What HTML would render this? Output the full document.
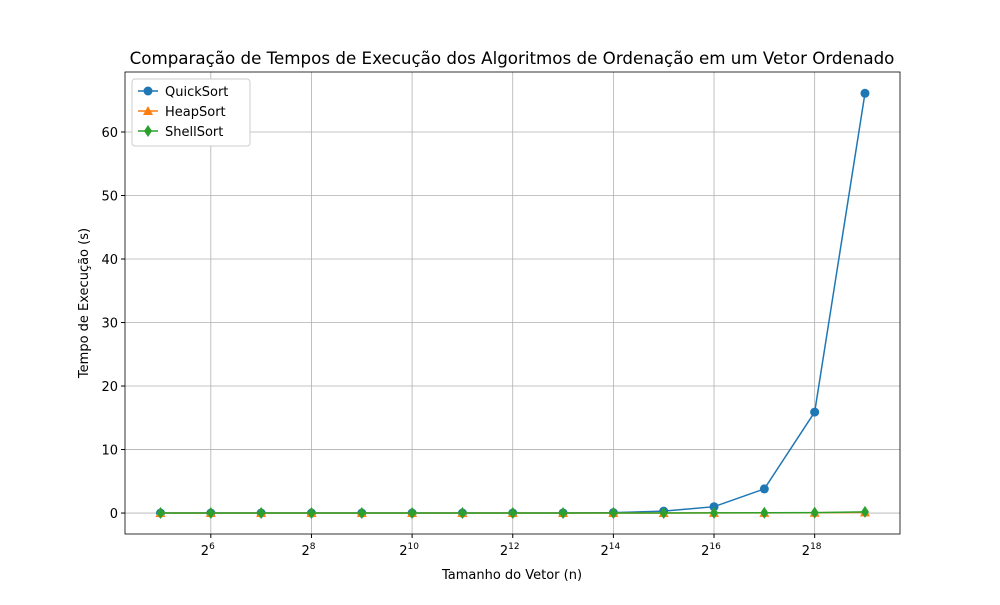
<!DOCTYPE html>
<html><head><meta charset="utf-8"><style>body{margin:0;background:#fff}svg{font-family:"DejaVu Sans","Liberation Sans",sans-serif}</style></head>
<body>
<svg id="c" width="1000" height="600"></svg>
<script>
const exps=[5,6,7,8,9,10,11,12,13,14,15,16,17,18,19];
const quick=[0,0,0,0,0,0,0,0,0.01,0.06,0.3,1.0,3.8,15.9,66.1];
const heap=[0,0,0,0,0,0,0,0,0,0.01,0.01,0.02,0.03,0.05,0.1];
const shell=[0,0,0,0,0,0,0,0,0,0.01,0.01,0.02,0.04,0.07,0.18];
const xTicks=[6,8,10,12,14,16,18];
const yTicks=[0,10,20,30,40,50,60];
const L=125,R=900,T=72,B=534;
const x=e=>160.5+(e-5)*50.32;
const y=v=>B-(v+3.3)/(69.45+3.3)*(B-T);
const s=document.getElementById('c');const NS='http://www.w3.org/2000/svg';
function el(t,a,p){const e=document.createElementNS(NS,t);for(const k in a)e.setAttribute(k,a[k]);(p||s).appendChild(e);return e;}
let g=el('g',{});
xTicks.forEach(e=>{el('line',{x1:x(e),x2:x(e),y1:T,y2:B,stroke:'#b0b0b0','stroke-width':0.8},g);
 const t=el('text',{x:x(e)-3,y:B+21,'font-size':13,'text-anchor':'middle'});t.textContent='2';
 
 const sp=el('tspan',{dy:-6,'font-size':9},t);sp.textContent=e;
 el('line',{x1:x(e),x2:x(e),y1:B,y2:B+4,stroke:'#000'});});
yTicks.forEach(v=>{el('line',{x1:L,x2:R,y1:y(v),y2:y(v),stroke:'#b0b0b0','stroke-width':0.8},g);
 el('line',{x1:L-4,x2:L,y1:y(v),y2:y(v),stroke:'#000'});
 const t=el('text',{x:L-7,y:y(v)+5,'font-size':13,'text-anchor':'end'});t.textContent=v;
 });
const fr=el('rect',{x:L,y:T,width:R-L,height:B-T,fill:'none',stroke:'#000','stroke-width':0.8});

function marker(k,cx,cy,c,p){if(k=='o')el('circle',{cx,cy,r:4.5,fill:c},p);
 else if(k=='^')el('polygon',{points:`${cx},${cy-5} ${cx-5},${cy+4} ${cx+5},${cy+4}`,fill:c},p);
 else el('polygon',{points:`${cx},${cy-6} ${cx-4},${cy} ${cx},${cy+6} ${cx+4},${cy}`,fill:c},p);}
const series=[['quicksort',quick,'#1f77b4','o'],['heapsort',heap,'#ff7f0e','^'],['shellsort',shell,'#2ca02c','d']];
series.forEach(([n,d,c,m])=>{const gg=el('g',{});
 el('polyline',{points:d.map((v,i)=>x(exps[i])+','+y(v)).join(' '),fill:'none',stroke:c,'stroke-width':1.5},gg);
 d.forEach((v,i)=>marker(m,x(exps[i]),y(v),c,gg));});
function txt(str,a,name){const t=el('text',a);t.textContent=str;return t;}
txt('Comparação de Tempos de Execução dos Algoritmos de Ordenação em um Vetor Ordenado',{x:512,y:64,'font-size':16.7,'text-anchor':'middle'},'chart-title');
txt('Tamanho do Vetor (n)',{x:512,y:579,'font-size':13,'text-anchor':'middle'},'x-axis-title');
txt('Tempo de Execução (s)',{x:0,y:0,'font-size':13,'text-anchor':'middle',transform:`translate(88,303) rotate(-90)`},'y-axis-title');
const lg=el('g',{});
el('rect',{x:132,y:79,width:118,height:67,fill:'#fff',stroke:'#ccc',rx:3},lg);
series.forEach(([n,d,c,m],i)=>{const yy=91+i*20;el('line',{x1:138,x2:158,y1:yy,y2:yy,stroke:c,'stroke-width':1.5},lg);
 marker(m,148,yy,c,lg);const t=el('text',{x:165,y:yy+5,'font-size':13},lg);t.textContent=['QuickSort','HeapSort','ShellSort'][i];
 });
</script></body></html>
